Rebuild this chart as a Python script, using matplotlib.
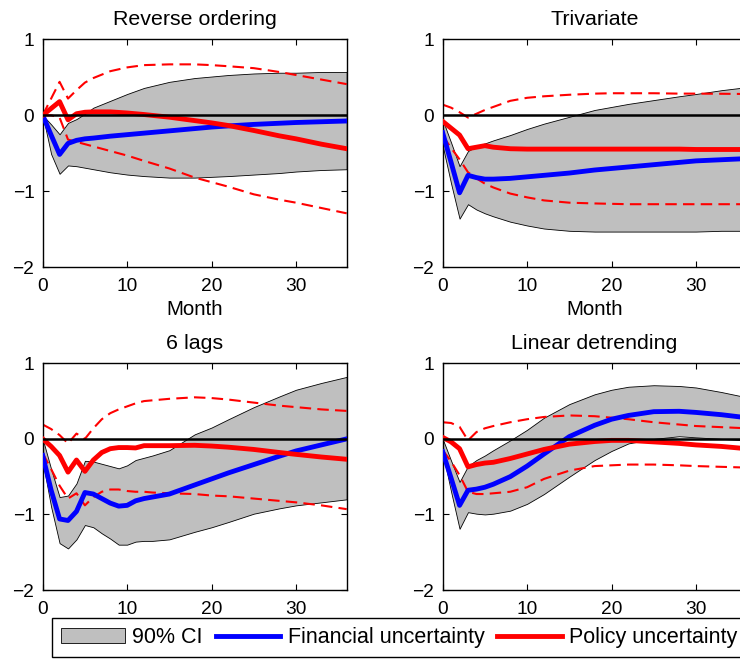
import matplotlib
matplotlib.use("Agg")
import matplotlib.pyplot as plt

plt.rcParams['font.family'] = ['Liberation Sans', 'DejaVu Sans']

# ---- Reverse ordering ----
rev_months = [0, 1, 2, 3, 4, 5, 6, 8, 10, 12, 15, 18, 20, 22, 25, 28, 30, 33, 36]
rev_ci_lo = [0, -0.51, -0.77, -0.66, -0.67, -0.69, -0.71, -0.75, -0.78, -0.80, -0.82, -0.82, -0.81, -0.80, -0.78, -0.76, -0.74, -0.72, -0.71]
rev_ci_hi = [0, -0.12, -0.25, -0.10, -0.05, 0.02, 0.10, 0.19, 0.28, 0.36, 0.44, 0.49, 0.51, 0.53, 0.55, 0.56, 0.56, 0.57, 0.57]
rev_fin = [0, -0.26, -0.515, -0.37, -0.33, -0.31, -0.30, -0.275, -0.255, -0.235, -0.205, -0.175, -0.155, -0.14, -0.12, -0.105, -0.095, -0.085, -0.075]
rev_pol = [0, 0.09, 0.18, -0.06, 0.02, 0.04, 0.045, 0.045, 0.03, 0.01, -0.025, -0.07, -0.10, -0.135, -0.20, -0.27, -0.31, -0.38, -0.44]
rev_pol_lo = [0, 0.0, -0.03, -0.32, -0.35, -0.38, -0.41, -0.47, -0.53, -0.60, -0.70, -0.82, -0.88, -0.94, -1.04, -1.11, -1.15, -1.22, -1.29]
rev_pol_hi = [0, 0.22, 0.44, 0.22, 0.33, 0.43, 0.49, 0.58, 0.63, 0.66, 0.67, 0.67, 0.66, 0.645, 0.62, 0.57, 0.53, 0.47, 0.41]

# ---- Trivariate ----
tri_months = [0, 1, 2, 3, 4, 5, 6, 8, 10, 12, 15, 18, 20, 22, 25, 28, 30, 33, 36]
tri_ci_lo = [-0.40, -0.90, -1.36, -1.17, -1.24, -1.29, -1.33, -1.40, -1.45, -1.49, -1.52, -1.53, -1.53, -1.53, -1.53, -1.53, -1.53, -1.52, -1.52]
tri_ci_hi = [-0.06, -0.36, -0.67, -0.47, -0.41, -0.37, -0.33, -0.26, -0.18, -0.11, -0.02, 0.07, 0.11, 0.15, 0.20, 0.25, 0.28, 0.33, 0.37]
tri_fin = [-0.23, -0.62, -1.02, -0.79, -0.82, -0.84, -0.84, -0.83, -0.81, -0.79, -0.76, -0.72, -0.70, -0.68, -0.65, -0.62, -0.60, -0.585, -0.57]
tri_pol = [-0.08, -0.17, -0.26, -0.44, -0.42, -0.40, -0.42, -0.44, -0.445, -0.445, -0.445, -0.445, -0.445, -0.445, -0.445, -0.445, -0.45, -0.45, -0.45]
tri_pol_lo = [-0.27, -0.43, -0.58, -0.75, -0.83, -0.90, -0.95, -1.03, -1.08, -1.12, -1.15, -1.16, -1.165, -1.17, -1.17, -1.17, -1.17, -1.17, -1.17]
tri_pol_hi = [0.14, 0.10, 0.04, -0.03, 0.02, 0.07, 0.11, 0.19, 0.23, 0.25, 0.27, 0.285, 0.29, 0.29, 0.29, 0.285, 0.285, 0.283, 0.28]

# ---- 6 lags ----
lag_months = [0, 1, 2, 3, 4, 5, 6, 7, 8, 9, 10, 11, 12, 13, 15, 18, 20, 22, 25, 28, 30, 33, 36]
lag_ci_lo = [-0.30, -0.90, -1.38, -1.45, -1.33, -1.14, -1.17, -1.25, -1.32, -1.40, -1.40, -1.36, -1.35, -1.35, -1.33, -1.23, -1.17, -1.10, -0.99, -0.92, -0.88, -0.84, -0.80]
lag_ci_hi = [0, -0.40, -0.77, -0.75, -0.59, -0.29, -0.30, -0.33, -0.36, -0.39, -0.35, -0.28, -0.25, -0.22, -0.15, 0.06, 0.15, 0.26, 0.42, 0.56, 0.65, 0.74, 0.82]
lag_fin = [-0.22, -0.68, -1.06, -1.08, -0.96, -0.71, -0.73, -0.79, -0.85, -0.89, -0.88, -0.82, -0.79, -0.77, -0.73, -0.61, -0.53, -0.45, -0.34, -0.23, -0.16, -0.08, 0.0]
lag_pol = [0, -0.10, -0.22, -0.44, -0.28, -0.43, -0.28, -0.18, -0.13, -0.115, -0.115, -0.12, -0.09, -0.09, -0.09, -0.085, -0.095, -0.11, -0.14, -0.18, -0.205, -0.24, -0.27]
lag_pol_lo = [-0.19, -0.40, -0.62, -0.79, -0.72, -0.88, -0.77, -0.70, -0.67, -0.67, -0.69, -0.70, -0.70, -0.71, -0.72, -0.73, -0.75, -0.76, -0.79, -0.82, -0.84, -0.88, -0.93]
lag_pol_hi = [0.19, 0.13, 0.05, -0.06, 0.07, 0.0, 0.14, 0.26, 0.34, 0.39, 0.43, 0.47, 0.50, 0.51, 0.53, 0.55, 0.54, 0.52, 0.48, 0.44, 0.42, 0.39, 0.37]

# ---- Linear detrending ----
det_months = [0, 1, 2, 3, 4, 5, 6, 8, 10, 12, 15, 18, 20, 22, 25, 28, 30, 33, 36]
det_ci_lo = [-0.18, -0.70, -1.19, -0.97, -0.99, -1.00, -0.99, -0.95, -0.86, -0.73, -0.50, -0.28, -0.16, -0.06, 0.0, 0.035, 0.02, 0.0, -0.02]
det_ci_hi = [0, -0.29, -0.57, -0.36, -0.28, -0.22, -0.15, -0.02, 0.12, 0.28, 0.46, 0.59, 0.65, 0.69, 0.71, 0.70, 0.68, 0.62, 0.55]
det_fin = [-0.17, -0.52, -0.88, -0.68, -0.665, -0.64, -0.60, -0.50, -0.36, -0.20, 0.03, 0.18, 0.26, 0.31, 0.36, 0.365, 0.35, 0.32, 0.28]
det_pol = [0.02, -0.04, -0.13, -0.37, -0.34, -0.32, -0.31, -0.26, -0.20, -0.14, -0.07, -0.035, -0.02, -0.02, -0.04, -0.06, -0.08, -0.10, -0.13]
det_pol_lo = [-0.15, -0.30, -0.48, -0.70, -0.73, -0.73, -0.72, -0.70, -0.64, -0.53, -0.42, -0.36, -0.35, -0.34, -0.34, -0.35, -0.36, -0.37, -0.38]
det_pol_hi = [0.22, 0.21, 0.16, -0.02, 0.09, 0.14, 0.17, 0.22, 0.26, 0.29, 0.31, 0.30, 0.28, 0.26, 0.22, 0.19, 0.17, 0.155, 0.14]

titles = ['Reverse ordering', 'Trivariate', '6 lags', 'Linear detrending']
legend_labels = ['90% CI', 'Financial uncertainty', 'Policy uncertainty']


def draw_panel(ax, months, ci_lo, ci_hi, fin, pol, pol_lo, pol_hi, title, xlabel):
    band = ax.fill_between(months, ci_lo, ci_hi, facecolor='#bfbfbf',
                           edgecolor='black', linewidth=0.6, zorder=1)
    dash = (0, (5.5, 3))
    ax.plot(months, pol_hi, color='red', lw=1.5, ls=dash, zorder=2)
    ax.plot(months, pol_lo, color='red', lw=1.5, ls=dash, zorder=2)
    fin_line, = ax.plot(months, fin, color='blue', lw=3.5, zorder=3)
    pol_line, = ax.plot(months, pol, color='red', lw=3.5, zorder=4)
    ax.axhline(0, color='black', lw=1.8, zorder=5)

    ax.set_xlim(0, 36)
    ax.set_ylim(-2, 1)
    ax.set_xticks([0, 10, 20, 30])
    ax.set_yticks([-2, -1, 0, 1])
    ax.set_yticklabels(['\u22122', '\u22121', '0', '1'])
    ax.tick_params(direction='in', length=4, width=0.8, top=True, right=True,
                   labelsize=13.8)
    ax.tick_params(axis='x', pad=8)
    ax.tick_params(axis='y', pad=6)
    for s in ax.spines.values():
        s.set_linewidth(1.0)
    ax.set_title(title, fontsize=15.4, pad=10)
    if xlabel:
        ax.set_xlabel('Month', fontsize=14.8, labelpad=3)
    return band, fin_line, pol_line


def main():
    fig = plt.figure(figsize=(7.4, 6.59), dpi=100)
    w = 0.4108
    ax1 = fig.add_axes([0.0577, 0.5944, w, 0.346])
    ax2 = fig.add_axes([0.5982, 0.5944, w, 0.346])
    ax3 = fig.add_axes([0.0577, 0.1047, w, 0.344])
    ax4 = fig.add_axes([0.5982, 0.1047, w, 0.344])

    handles = draw_panel(ax1, rev_months, rev_ci_lo, rev_ci_hi, rev_fin, rev_pol,
                         rev_pol_lo, rev_pol_hi, titles[0], True)
    draw_panel(ax2, tri_months, tri_ci_lo, tri_ci_hi, tri_fin, tri_pol,
               tri_pol_lo, tri_pol_hi, titles[1], True)
    draw_panel(ax3, lag_months, lag_ci_lo, lag_ci_hi, lag_fin, lag_pol,
               lag_pol_lo, lag_pol_hi, titles[2], False)
    draw_panel(ax4, det_months, det_ci_lo, det_ci_hi, det_fin, det_pol,
               det_pol_lo, det_pol_hi, titles[3], False)

    leg = fig.legend(handles, legend_labels, loc='upper left',
                     bbox_to_anchor=(51.7 / 740, 1 - 618.3 / 659), ncol=3,
                     fontsize=15.5, frameon=True, fancybox=False, framealpha=1,
                     edgecolor='black', borderaxespad=0, handlelength=3.0,
                     handletextpad=0.33, columnspacing=0.6, borderpad=0.42)
    leg.get_frame().set_linewidth(1.0)

    fig.savefig('out.png', dpi=100)


if __name__ == "__main__":
    main()
